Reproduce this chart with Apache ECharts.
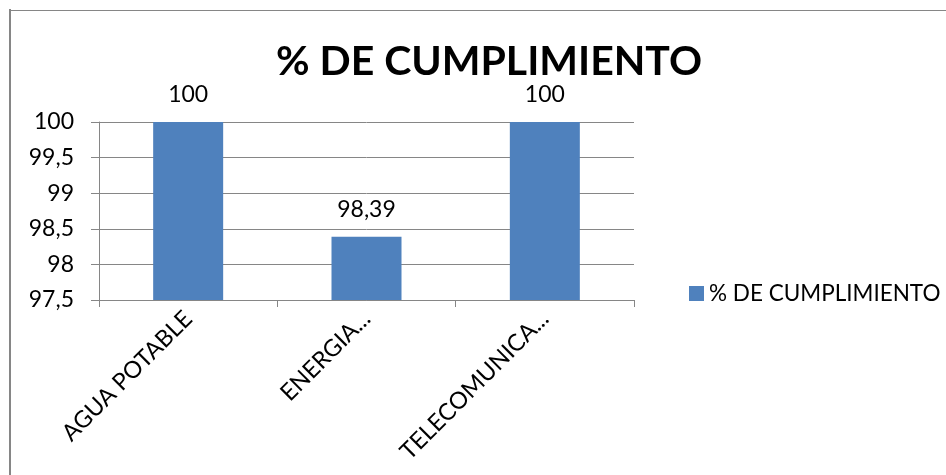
<!DOCTYPE html>
<html>
<head>
<meta charset="utf-8">
<script src="https://cdn.jsdelivr.net/npm/echarts@6/dist/echarts.min.js"></script>
<style>
  html, body { margin: 0; padding: 0; background: #fff; }
  #chart { width: 946px; height: 475px; }
</style>
</head>
<body>
<div id="chart"></div>
<script>
  // datos del grafico
  var categorias = ['AGUA POTABLE', 'ENERGIA...', 'TELECOMUNICA...']
  var cumplimiento = [100, 98.39, 100]
  var nombreSerie = '% DE CUMPLIMIENTO'

  var coma = function (v) { return String(v).replace('.', ',') }
  var gris = '#868686'

  var chart = echarts.init(document.getElementById('chart'))
  chart.setOption({
    animation: false,
    textStyle: { fontFamily: 'Lato' },
    // marco exterior
    graphic: [
      { type: 'line', shape: { x1: 10, y1: 9, x2: 10, y2: 480 }, style: { stroke: gris, lineWidth: 2 } },
      { type: 'line', shape: { x1: 9, y1: 10.5, x2: 950, y2: 10.5 }, style: { stroke: gris, lineWidth: 1 } }
    ],
    title: {
      text: nombreSerie,
      left: 484,
      textAlign: 'center',
      top: 36,
      textStyle: { fontFamily: 'Lato', fontWeight: 'bold', fontSize: 41, color: '#000' }
    },
    legend: {
      left: 684,
      top: 277,
      icon: 'rect',
      itemWidth: 15,
      itemHeight: 15,
      textStyle: { fontSize: 22.5, color: '#000' },
      data: [nombreSerie]
    },
    grid: { left: 99, right: 312, top: 122, bottom: 175 },
    xAxis: {
      type: 'category',
      data: categorias,
      axisLine: { lineStyle: { color: gris, width: 1 } },
      axisTick: { show: true, length: 7, lineStyle: { color: gris } },
      axisLabel: { rotate: 45, margin: 15, fontSize: 23.5, color: '#000', interval: 0 }
    },
    yAxis: {
      type: 'value',
      min: 97.5,
      max: 100,
      interval: 0.5,
      axisLine: { show: true, lineStyle: { color: gris, width: 1 } },
      axisTick: { show: true, length: 8, lineStyle: { color: gris } },
      axisLabel: { margin: 25, fontSize: 23, color: '#000', formatter: coma },
      splitLine: { lineStyle: { color: gris, width: 1 } }
    },
    series: [{
      name: nombreSerie,
      type: 'bar',
      barWidth: 70,
      itemStyle: { color: '#4F81BD' },
      label: {
        show: true,
        position: 'top',
        distance: 16,
        fontSize: 23,
        color: '#000',
        formatter: function (p) { return coma(p.value) }
      },
      data: cumplimiento
    }]
  })
</script>
</body>
</html>
